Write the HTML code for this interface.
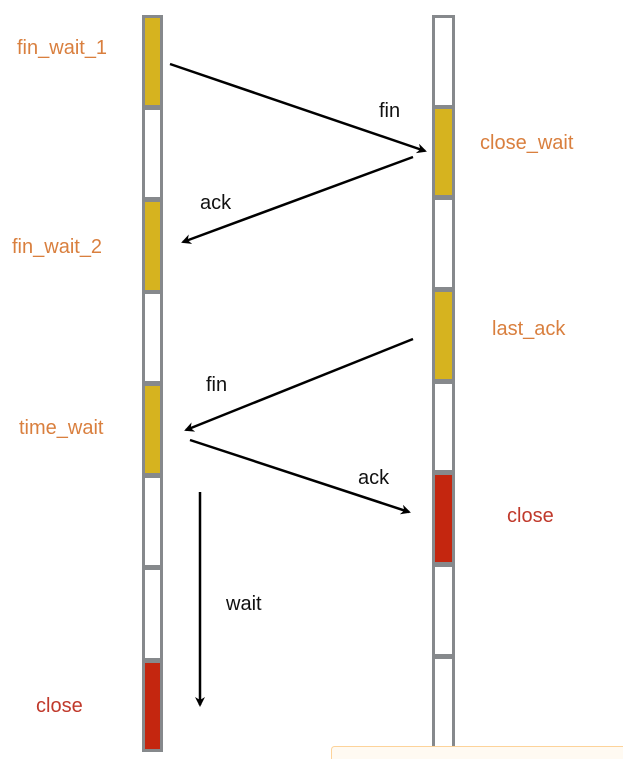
<!DOCTYPE html>
<html><head><meta charset="utf-8"><style>
html,body{margin:0;padding:0;background:#fff;}
svg{display:block;}
text{font-family:"Liberation Sans",sans-serif;font-size:20px;}
.o{fill:#d97f3e;}
.r{fill:#c0392b;}
.k{fill:#111;}
</style></head><body>
<svg width="623" height="759" viewBox="0 0 623 759" xmlns="http://www.w3.org/2000/svg">
<defs>
<marker id="a" markerWidth="10" markerHeight="10" refX="8" refY="5" orient="auto" markerUnits="userSpaceOnUse">
<path d="M0,0 L10,5 L0,10 L3,5 Z" fill="#000"/>
</marker>
</defs>
<g stroke="#86898c" stroke-width="3">
<rect x="143.5" y="16.5" width="18" height="90" fill="#d6b31f"/>
<rect x="143.5" y="108.5" width="18" height="90" fill="#fff"/>
<rect x="143.5" y="200.5" width="18" height="91" fill="#d6b31f"/>
<rect x="143.5" y="292.5" width="18" height="90" fill="#fff"/>
<rect x="143.5" y="384.5" width="18" height="90" fill="#d6b31f"/>
<rect x="143.5" y="476.5" width="18" height="90" fill="#fff"/>
<rect x="143.5" y="568.5" width="18" height="91" fill="#fff"/>
<rect x="143.5" y="661.5" width="18" height="89" fill="#c4260f"/>

<rect x="433.5" y="16.5" width="20" height="90" fill="#fff"/>
<rect x="433.5" y="107.5" width="20" height="89" fill="#d6b31f"/>
<rect x="433.5" y="198.5" width="20" height="90" fill="#fff"/>
<rect x="433.5" y="290.5" width="20" height="90" fill="#d6b31f"/>
<rect x="433.5" y="382.5" width="20" height="89" fill="#fff"/>
<rect x="433.5" y="473.5" width="20" height="90" fill="#c4260f"/>
<rect x="433.5" y="565.5" width="20" height="90" fill="#fff"/>
<rect x="433.5" y="657.5" width="20" height="110" fill="#fff"/>
</g>
<rect x="331.5" y="746.5" width="300" height="20" rx="3" fill="#fffaf2" stroke="#fdd39a" stroke-width="1"/>
<g stroke="#000" stroke-width="2.5" fill="none" marker-end="url(#a)">
<line x1="170" y1="64" x2="425" y2="151"/>
<line x1="413" y1="157" x2="183" y2="242"/>
<line x1="413" y1="339" x2="186" y2="430"/>
<line x1="190" y1="440" x2="409" y2="512"/>
<line x1="200" y1="492" x2="200" y2="705"/>
</g>
<text class="o" x="17" y="54">fin_wait_1</text>
<text class="o" x="12" y="253">fin_wait_2</text>
<text class="o" x="19" y="434">time_wait</text>
<text class="r" x="36" y="712">close</text>
<text class="o" x="480" y="149">close_wait</text>
<text class="o" x="492" y="335">last_ack</text>
<text class="r" x="507" y="522">close</text>
<text class="k" x="379" y="117">fin</text>
<text class="k" x="200" y="209">ack</text>
<text class="k" x="206" y="391">fin</text>
<text class="k" x="358" y="484">ack</text>
<text class="k" x="226" y="610">wait</text>
</svg>
</body></html>
